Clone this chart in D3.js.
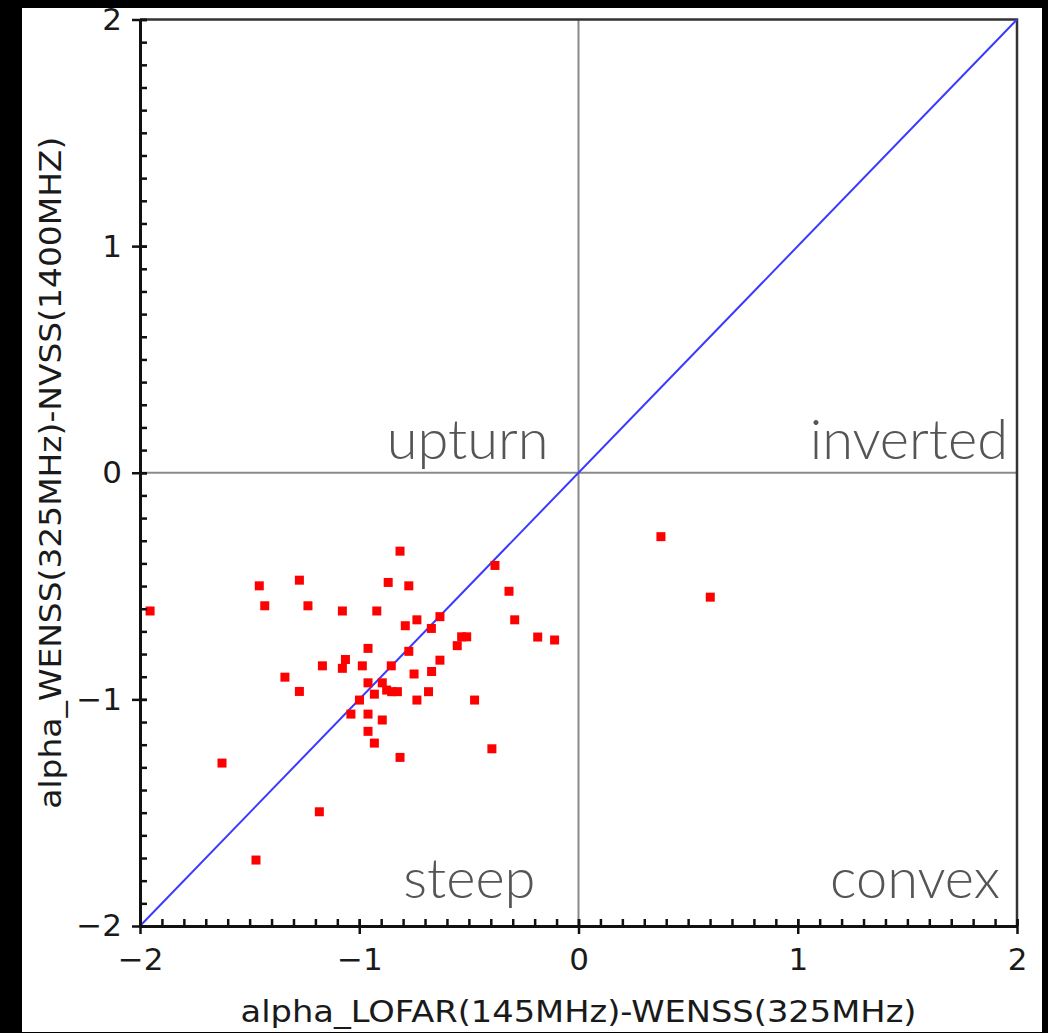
<!DOCTYPE html>
<html>
<head>
<meta charset="utf-8">
<script src="https://cdn.jsdelivr.net/npm/d3@7"></script>
<style>
  html, body { margin: 0; padding: 0; background: #000; }
  svg { display: block; }
</style>
</head>
<body>
<div class="chart"></div>
<script>
// spectral index pairs
const alphaLofarWenss = [
  -1.954, -1.456, -1.273, -1.431, -1.234, -1.077, -0.920, -0.814, -0.868, -0.774,
  -0.790, -0.737, -0.632, -0.671, -0.381, -0.317, -0.291, -0.533, -0.510, -0.553,
  -0.186, -0.109, -0.960, -0.774, -0.632, -1.063, -1.077, -1.168, -0.986, -0.854,
  -0.750, -0.670, -1.339, -1.273, -0.960, -0.895, -0.875, -0.852, -0.826, -0.931,
  -0.684, -0.737, -0.474, -0.999, -1.038, -0.960, -0.895, -0.960, -0.931, -0.814,
  -0.395, -1.626, -1.182, -1.471, 0.376, 0.601
];
const alphaWenssNvss = [
  -0.610, -0.499, -0.474, -0.587, -0.587, -0.610, -0.610, -0.346, -0.484, -0.499,
  -0.675, -0.649, -0.635, -0.687, -0.409, -0.523, -0.649, -0.724, -0.724, -0.763,
  -0.725, -0.738, -0.775, -0.788, -0.827, -0.824, -0.863, -0.852, -0.852, -0.852,
  -0.888, -0.877, -0.902, -0.965, -0.927, -0.927, -0.959, -0.966, -0.966, -0.977,
  -0.966, -1.003, -1.003, -1.003, -1.065, -1.065, -1.091, -1.141, -1.193, -1.256,
  -1.218, -1.281, -1.496, -1.709, -0.282, -0.549
];
const majorTicks = [-2, -1, 0, 1, 2];
const diagonal = [[-2, -2], [2, 2]];
const quadrantNames = ["upturn", "inverted", "steep", "convex"];
const xTitle = "alpha_LOFAR(145MHz)-WENSS(325MHz)";
const yTitle = "alpha_WENSS(325MHz)-NVSS(1400MHZ)";

const width = 1048, height = 1033;
const minorTicks = d3.range(-20, 21).map(d => d / 10);

const svg = d3.select(".chart").append("svg")
  .attr("width", width)
  .attr("height", height);

// white card on black
svg.append("rect")
  .attr("x", 22).attr("y", 8)
  .attr("width", 1020).attr("height", 1024)
  .attr("fill", "#fff");

const x = d3.scaleLinear().domain([-2, 2]).range([140, 1017]);
const y = d3.scaleLinear().domain([-2, 2]).range([926, 19.5]);

//zero lines
svg.append("line")
  .attr("x1", x(0)).attr("x2", x(0))
  .attr("y1", y(2)).attr("y2", y(-2))
  .attr("stroke", "#8a8a8a").attr("stroke-width", 2);
svg.append("line")
  .attr("x1", x(-2)).attr("x2", x(2))
  .attr("y1", y(0)).attr("y2", y(0))
  .attr("stroke", "#8a8a8a").attr("stroke-width", 2);

// top + right frame
svg.append("path")
  .attr("d", `M${x(-2)},${y(2)}H${x(2)}V${y(-2)}`)
  .attr("fill", "none")
  .attr("stroke", "#333")
  .attr("stroke-width", 2.5);

// quadrant labels
const qStyle = sel => sel
  .attr("font-family", "Lato, 'Open Sans', 'Noto Sans', sans-serif")
  .attr("font-weight", 300)
  .attr("font-size", 56)
  .attr("fill", "#555");

svg.append("text").text(quadrantNames[0])
  .attr("x", x(0) - 30).attr("y", y(0) - 14)
  .attr("text-anchor", "end").call(qStyle);
svg.append("text").text(quadrantNames[1])
  .attr("x", x(2) - 9).attr("y", y(0) - 14)
  .attr("text-anchor", "end").call(qStyle);
svg.append("text").text(quadrantNames[2])
  .attr("x", x(0) - 43).attr("y", y(-2) - 28)
  .attr("text-anchor", "end").call(qStyle);
svg.append("text").text(quadrantNames[3])
  .attr("x", x(2) - 17).attr("y", y(-2) - 28)
  .attr("text-anchor", "end").call(qStyle);

// 1:1 line
svg.append("path")
  .attr("d", d3.line().x(d => x(d[0])).y(d => y(d[1]))(diagonal))
  .attr("stroke", "#3a3aff")
  .attr("stroke-width", 2)
  .attr("fill", "none");

// points
const points = alphaLofarWenss.map((d, i) => ({ a: d, b: alphaWenssNvss[i] }));
svg.selectAll("rect.pt")
  .data(points)
  .enter()
  .append("rect")
  .attr("class", "pt")
  .attr("x", d => x(d.a) - 4.5)
  .attr("y", d => y(d.b) - 4.5)
  .attr("width", 9)
  .attr("height", 9)
  .attr("fill", "#f00");

const tickFont = "'DejaVu Sans', Verdana, sans-serif";
const fmt = d3.format("d");

// y axis: minor ticks inside, major ticks crossing
svg.append("g")
  .attr("transform", `translate(${x(-2)},0)`)
  .call(d3.axisLeft(y).tickValues(minorTicks).tickSizeInner(-7).tickSizeOuter(0).tickFormat(""))
  .call(g => g.select(".domain").remove())
  .call(g => g.selectAll(".tick line").attr("stroke", "#111").attr("stroke-width", 2.5));

svg.append("g")
  .attr("transform", `translate(${x(-2)},0)`)
  .call(d3.axisLeft(y).tickValues(majorTicks).tickFormat(fmt).tickSizeInner(8).tickSizeOuter(0).tickPadding(10))
  .call(g => g.select(".domain").attr("stroke", "#111").attr("stroke-width", 3))
  .call(g => g.selectAll(".tick line").attr("x2", -8).attr("x1", 7).attr("stroke", "#111").attr("stroke-width", 2.5))
  .call(g => g.selectAll(".tick text")
    .attr("font-family", tickFont).attr("font-size", 31).attr("fill", "#1a1a1a"));

// x axis
svg.append("g")
  .attr("transform", `translate(0,${y(-2)})`)
  .call(d3.axisBottom(x).tickValues(minorTicks).tickSizeInner(-7).tickSizeOuter(0).tickFormat(""))
  .call(g => g.select(".domain").remove())
  .call(g => g.selectAll(".tick line").attr("stroke", "#111").attr("stroke-width", 2.5));

svg.append("g")
  .attr("transform", `translate(0,${y(-2)})`)
  .call(d3.axisBottom(x).tickValues(majorTicks).tickFormat(fmt).tickSizeInner(8).tickSizeOuter(0).tickPadding(14))
  .call(g => g.select(".domain").attr("stroke", "#111").attr("stroke-width", 3))
  .call(g => g.selectAll(".tick line").attr("y2", 8).attr("y1", -7).attr("stroke", "#111").attr("stroke-width", 2.5))
  .call(g => g.selectAll(".tick text")
    .attr("font-family", tickFont).attr("font-size", 31).attr("fill", "#1a1a1a"));

// axis titles
svg.append("text")
  .text(xTitle)
  .attr("x", x(0))
  .attr("y", 1022)
  .attr("text-anchor", "middle")
  .attr("font-family", tickFont)
  .attr("font-size", 30)
  .attr("fill", "#1a1a1a")
  .attr("textLength", 676)
  .attr("lengthAdjust", "spacingAndGlyphs");

svg.append("text")
  .text(yTitle)
  .attr("transform", `translate(61,${y(0)}) rotate(-90)`)
  .attr("text-anchor", "middle")
  .attr("font-family", tickFont)
  .attr("font-size", 30)
  .attr("fill", "#1a1a1a")
  .attr("textLength", 672)
  .attr("lengthAdjust", "spacingAndGlyphs");
</script>
</body>
</html>
